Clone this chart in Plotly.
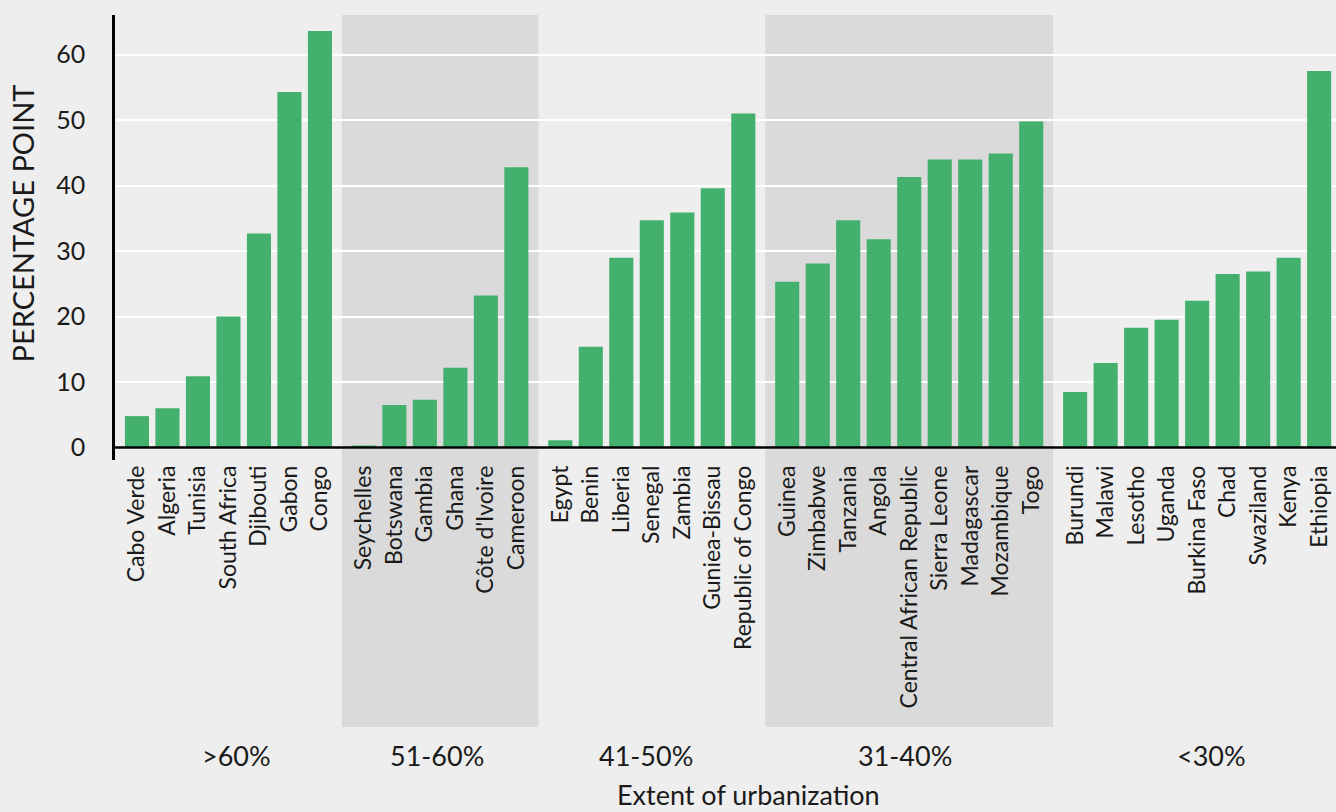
import plotly.graph_objects as go

group_labels = [">60%", "51-60%", "41-50%", "31-40%", "<30%"]

countries_gt60 = ["Cabo Verde", "Algeria", "Tunisia", "South Africa", "Djibouti", "Gabon", "Congo"]
values_gt60 = [4.8, 6.0, 10.9, 20.0, 32.7, 54.3, 63.6]

countries_51_60 = ["Seychelles", "Botswana", "Gambia", "Ghana", "Côte d'Ivoire", "Cameroon"]
values_51_60 = [0.3, 6.5, 7.3, 12.2, 23.2, 42.8]

countries_41_50 = ["Egypt", "Benin", "Liberia", "Senegal", "Zambia", "Guniea-Bissau", "Republic of Congo"]
values_41_50 = [1.1, 15.4, 29.0, 34.7, 35.9, 39.6, 51.0]

countries_31_40 = ["Guinea", "Zimbabwe", "Tanzania", "Angola", "Central African Republic",
                   "Sierra Leone", "Madagascar", "Mozambique", "Togo"]
values_31_40 = [25.3, 28.1, 34.7, 31.8, 41.3, 44.0, 44.0, 44.9, 49.8]

countries_lt30 = ["Burundi", "Malawi", "Lesotho", "Uganda", "Burkina Faso", "Chad",
                  "Swaziland", "Kenya", "Ethiopia"]
values_lt30 = [8.5, 12.9, 18.3, 19.5, 22.4, 26.5, 26.9, 29.0, 57.5]

y_ticks = [0, 10, 20, 30, 40, 50, 60]

groups = [
    (countries_gt60, values_gt60),
    (countries_51_60, values_51_60),
    (countries_41_50, values_41_50),
    (countries_31_40, values_31_40),
    (countries_lt30, values_lt30),
]
shaded = [False, True, False, True, False]
label_x_px = [236, 437, 646, 905, 1211]  # group label centres (layout)

W, H = 1336, 812
ML, MR, MT, MB = 115, 0, 15, 352
plot_w = W - ML - MR
plot_h = H - MT - MB
unit = 30.5  # px per category slot
pad = 0.72

BG = "#eeeeee"
SHADE = "#dadada"
BAR = "#43b06d"
TXT = "#1a1a1a"
FONT = "Lato"

fig = go.Figure()
layout = {}
start = 0.0
domains = []
for i, (cats, vals) in enumerate(groups):
    n = len(cats)
    w = (n - 1 + 2 * pad) * unit / plot_w
    end = min(1.0, start + w)
    domains.append((start, end))
    xa = "x" if i == 0 else f"x{i+1}"
    fig.add_trace(go.Bar(x=cats, y=vals, marker_color=BAR, marker_line_width=0,
                         xaxis=xa, yaxis="y", showlegend=False, width=0.79))
    rng_end = -pad + (end - start) * plot_w / unit
    key = "xaxis" if i == 0 else f"xaxis{i+1}"
    layout[key] = dict(domain=[start, end], anchor="y", range=[-pad, rng_end],
                       type="category", tickangle=-90, showgrid=False, zeroline=False,
                       showline=False, ticks="", tickfont=dict(family=FONT, size=23, color=TXT),
                       fixedrange=True)
    start = end

fig.update_layout(**layout)
fig.update_layout(
    width=W, height=H,
    margin=dict(l=ML, r=MR, t=MT, b=MB, pad=0),
    paper_bgcolor=BG, plot_bgcolor=BG,
    yaxis=dict(range=[-1.9, 66.05], tickvals=y_ticks, ticktext=[str(v) for v in y_ticks],
               showgrid=True, gridcolor="white", gridwidth=2, zeroline=False,
               showline=True, linecolor="black", linewidth=2.5,
               ticks="outside", ticklen=22, tickcolor="rgba(0,0,0,0)",
               tickfont=dict(family=FONT, size=25, color=TXT), fixedrange=True),
    font=dict(family=FONT, color=TXT),
)

# shaded facet panels
for (d0, d1), s in zip(domains, shaded):
    if s:
        fig.add_shape(type="rect", xref="paper", yref="paper", x0=d0, x1=d1,
                      y0=(plot_h + MT - 727) / plot_h, y1=1, fillcolor=SHADE,
                      line_width=0, layer="below")

# zero line above bars
fig.add_shape(type="line", xref="paper", yref="y", x0=0, x1=1, y0=0, y1=0,
              line=dict(color="black", width=2.5), layer="above")

# group labels
for lab, px in zip(group_labels, label_x_px):
    fig.add_annotation(x=(px - ML) / plot_w, y=(MT + plot_h - 755) / plot_h, xref="paper", yref="paper",
                       text=lab, showarrow=False, xanchor="center", yanchor="middle",
                       font=dict(family=FONT, size=27, color=TXT))

fig.add_annotation(x=(748 - ML) / plot_w, y=(MT + plot_h - 794) / plot_h, xref="paper", yref="paper",
                   text="Extent of urbanization", showarrow=False, xanchor="center", yanchor="middle",
                   font=dict(family=FONT, size=27, color=TXT))
fig.add_annotation(x=(22 - ML) / plot_w, y=(MT + plot_h - 223.5) / plot_h, xref="paper", yref="paper",
                   text="PERCENTAGE POINT", textangle=-90, showarrow=False,
                   xanchor="center", yanchor="middle",
                   font=dict(family=FONT, size=29, color=TXT))

fig.write_html("out.html", config={"displayModeBar": False},
               post_script="document.body.style.margin='0';document.body.style.overflow='hidden';")
